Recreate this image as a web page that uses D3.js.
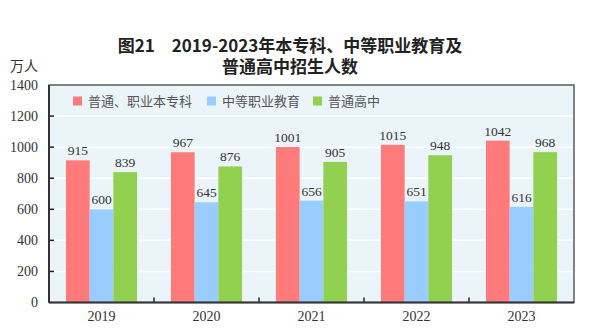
<!DOCTYPE html>
<html>
<head>
<meta charset="utf-8">
<script src="https://cdn.jsdelivr.net/npm/d3@7"></script>
<style>
html,body{margin:0;padding:0;background:#fff;}
svg{display:block;}
</style>
</head>
<body>
<svg id="chart" width="593" height="336"></svg>
<script>
const years = ["2019","2020","2021","2022","2023"];
const seriesNames = ["普通、职业本专科","中等职业教育","普通高中"];
const higherEd = [915, 967, 1001, 1015, 1042];
const vocational = [600, 645, 656, 651, 616];
const highSchool = [839, 876, 905, 948, 968];
const yTicks = [0, 200, 400, 600, 800, 1000, 1200, 1400];
const colors = ["#FF7B7B", "#99CCFF", "#92D050"];

const seriesValues = [higherEd, vocational, highSchool];
const svg = d3.select("#chart");
const L = 49, R = 574, T = 85, B = 302.5;

const x0 = d3.scaleBand().domain(years).range([L, R]).paddingInner(0).paddingOuter(0);
const x1 = d3.scaleBand().domain(seriesNames).range([0, x0.bandwidth()]).paddingInner(0).paddingOuter(0.715);
const y = d3.scaleLinear().domain([0, 1400]).range([B, T]);

// title
svg.append("text").attr("x", 290).attr("y", 52).attr("text-anchor", "middle")
  .style("font-family", "'Noto Sans CJK SC'").style("font-weight", "bold").style("font-size", "17px").attr("fill", "#222")
  .text("图21　2019-2023年本专科、中等职业教育及");
svg.append("text").attr("x", 290).attr("y", 73).attr("text-anchor", "middle")
  .style("font-family", "'Noto Sans CJK SC'").style("font-weight", "bold").style("font-size", "17px").attr("fill", "#222")
  .text("普通高中招生人数");

// unit
svg.append("text").attr("x", 10).attr("y", 71).text("万人")
  .style("font-family", "'Noto Sans CJK SC'").style("font-size", "14px").attr("fill", "#333");

// plot background
svg.append("rect").attr("x", L).attr("y", T).attr("width", R - L).attr("height", B - T).attr("fill", "#EBF4F8");

// gridlines
svg.append("g").selectAll("line").data(yTicks.filter(d => d > 0 && d < 1400)).join("line")
  .attr("x1", L).attr("x2", R).attr("y1", d => y(d)).attr("y2", d => y(d))
  .attr("stroke", "#fff").attr("stroke-width", 1.5);

// bars
const groups = svg.append("g").selectAll("g").data(years).join("g")
  .attr("transform", d => `translate(${x0(d)},0)`);
groups.selectAll("rect").data((d, i) => seriesNames.map((s, j) => ({s, v: seriesValues[j][i], j}))).join("rect")
  .attr("x", d => x1(d.s)).attr("width", x1.bandwidth())
  .attr("y", d => y(d.v)).attr("height", d => y(0) - y(d.v))
  .attr("fill", d => colors[d.j]);
groups.selectAll("text").data((d, i) => seriesNames.map((s, j) => ({s, v: seriesValues[j][i], j}))).join("text")
  .attr("x", d => x1(d.s) + x1.bandwidth() / 2).attr("y", d => y(d.v) - 5)
  .attr("text-anchor", "middle").text(d => d.v)
  .style("font-family", "'Liberation Serif'").style("font-size", "13.5px").attr("fill", "#333");

// y axis
const yAxis = d3.axisLeft(y).tickValues(yTicks).tickFormat(d3.format("d")).tickSize(0).tickPadding(11);
const gy = svg.append("g").attr("transform", `translate(${L},0)`).call(yAxis);
gy.select(".domain").remove();
gy.selectAll("text").style("font-family", "'Liberation Serif'").style("font-size", "14px").attr("fill", "#333");
// inward ticks
svg.append("g").selectAll("line").data(yTicks.filter(d => d > 0 && d < 1400)).join("line")
  .attr("x1", L).attr("x2", L + 5).attr("y1", d => y(d)).attr("y2", d => y(d))
  .attr("stroke", "#222").attr("stroke-width", 1.5);

// x axis
const xAxis = d3.axisBottom(x0).tickSize(0).tickPadding(9);
const gx = svg.append("g").attr("transform", `translate(0,${B})`).call(xAxis);
gx.select(".domain").remove();
gx.selectAll("text").style("font-family", "'Liberation Serif'").style("font-size", "14px").attr("fill", "#333");
svg.append("g").selectAll("line").data(years.slice(1)).join("line")
  .attr("x1", d => x0(d)).attr("x2", d => x0(d)).attr("y1", B).attr("y2", B - 5)
  .attr("stroke", "#222").attr("stroke-width", 1.5);

// frame
svg.append("rect").attr("x", L).attr("y", T).attr("width", R - L).attr("height", B - T)
  .attr("fill", "none").attr("stroke", "#444").attr("stroke-width", 1.3);
svg.append("line").attr("x1", L).attr("x2", L).attr("y1", T).attr("y2", B).attr("stroke", "#333").attr("stroke-width", 2);
svg.append("line").attr("x1", L).attr("x2", R).attr("y1", B).attr("y2", B).attr("stroke", "#333").attr("stroke-width", 2);

// legend
const legendX = [73, 207, 313];
const lg = svg.append("g").selectAll("g").data(seriesNames).join("g")
  .attr("transform", (d, i) => `translate(${legendX[i]},101)`);
lg.append("rect").attr("x", 0).attr("y", -4.5).attr("width", 9).attr("height", 9).attr("fill", (d, i) => colors[i]);
lg.append("text").attr("x", 15).attr("y", 4.5).text(d => d)
  .style("font-family", "'Noto Sans CJK SC'").style("font-size", "13px").attr("fill", "#555");
</script>
</body>
</html>
